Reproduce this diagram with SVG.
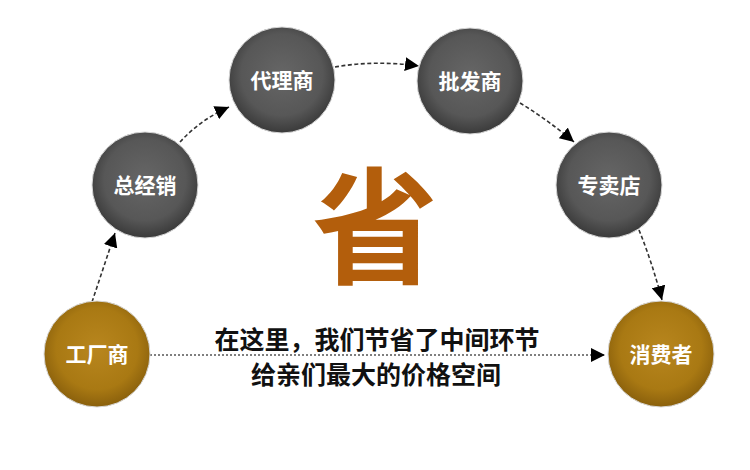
<svg xmlns="http://www.w3.org/2000/svg" width="750" height="470" viewBox="0 0 750 470">
  <defs>
    <radialGradient id="gGray" cx="50%" cy="45%" r="55%">
      <stop offset="0%" stop-color="#666666"/>
      <stop offset="70%" stop-color="#575757"/>
      <stop offset="100%" stop-color="#3a3a3a"/>
    </radialGradient>
    <radialGradient id="gGold" cx="50%" cy="45%" r="55%">
      <stop offset="0%" stop-color="#b8861e"/>
      <stop offset="70%" stop-color="#a97913"/>
      <stop offset="100%" stop-color="#8a600c"/>
    </radialGradient>
    <marker id="arrow" viewBox="0 0 10 10" refX="10" refY="5" markerWidth="14" markerHeight="14" markerUnits="userSpaceOnUse" orient="auto">
      <path d="M0,0 L10,5 L0,10 Z" fill="#000"/>
    </marker>
    <style>
      .node circle { stroke: #d8d8d8; stroke-width: 1; }
      .gray { fill: url(#gGray); }
      .gold { fill: url(#gGold); }
      .label { font-family: "Noto Sans CJK SC", "Noto Sans", sans-serif; font-size: 21px; font-weight: bold; fill: #ffffff; text-anchor: middle; }
      .dash { fill: none; stroke: #333; stroke-width: 1.6; stroke-dasharray: 4 2.5; marker-end: url(#arrow); }
      .dot { fill: none; stroke: #555; stroke-width: 1.4; stroke-dasharray: 2 2; marker-end: url(#arrow); }
      .main { font-family: "Noto Sans CJK SC", sans-serif; font-size: 25px; font-weight: bold; fill: #111; text-anchor: middle; }
      .big { font-family: "Noto Sans CJK SC", sans-serif; font-size: 126px; font-weight: bold; fill: #b35e0c; text-anchor: middle; }
    </style>
  </defs>
  <rect width="750" height="470" fill="#ffffff"/>

  <g id="connectors">
    <path class="dash" d="M92,302 L115,233"/>
    <path class="dash" d="M180,142 Q200,120 229,107"/>
    <path class="dash" d="M335,67 Q375,60 419,66"/>
    <path class="dash" d="M520,103 Q548,120 574,142"/>
    <path class="dash" d="M639,230 Q652,262 662,300"/>
    <path class="dot" d="M150,355 L605,355"/>
  </g>

  <g id="node-factory" class="node">
    <circle class="gold" cx="97" cy="354" r="53"/>
    <text class="label" x="97" y="362">工厂商</text>
  </g>
  <g id="node-distributor" class="node">
    <circle class="gray" cx="145" cy="185" r="53"/>
    <text class="label" x="145" y="193">总经销</text>
  </g>
  <g id="node-agent" class="node">
    <circle class="gray" cx="282" cy="80" r="53"/>
    <text class="label" x="282" y="88">代理商</text>
  </g>
  <g id="node-wholesaler" class="node">
    <circle class="gray" cx="470" cy="81" r="53"/>
    <text class="label" x="470" y="89">批发商</text>
  </g>
  <g id="node-store" class="node">
    <circle class="gray" cx="609" cy="185" r="53"/>
    <text class="label" x="609" y="193">专卖店</text>
  </g>
  <g id="node-consumer" class="node">
    <circle class="gold" cx="661" cy="354" r="53"/>
    <text class="label" x="661" y="362">消费者</text>
  </g>

  <g id="center-text">
    <text class="big" x="375" y="274">省</text>
    <text class="main" x="377" y="349">在这里，我们节省了中间环节</text>
    <text class="main" x="376" y="384">给亲们最大的价格空间</text>
  </g>
</svg>
